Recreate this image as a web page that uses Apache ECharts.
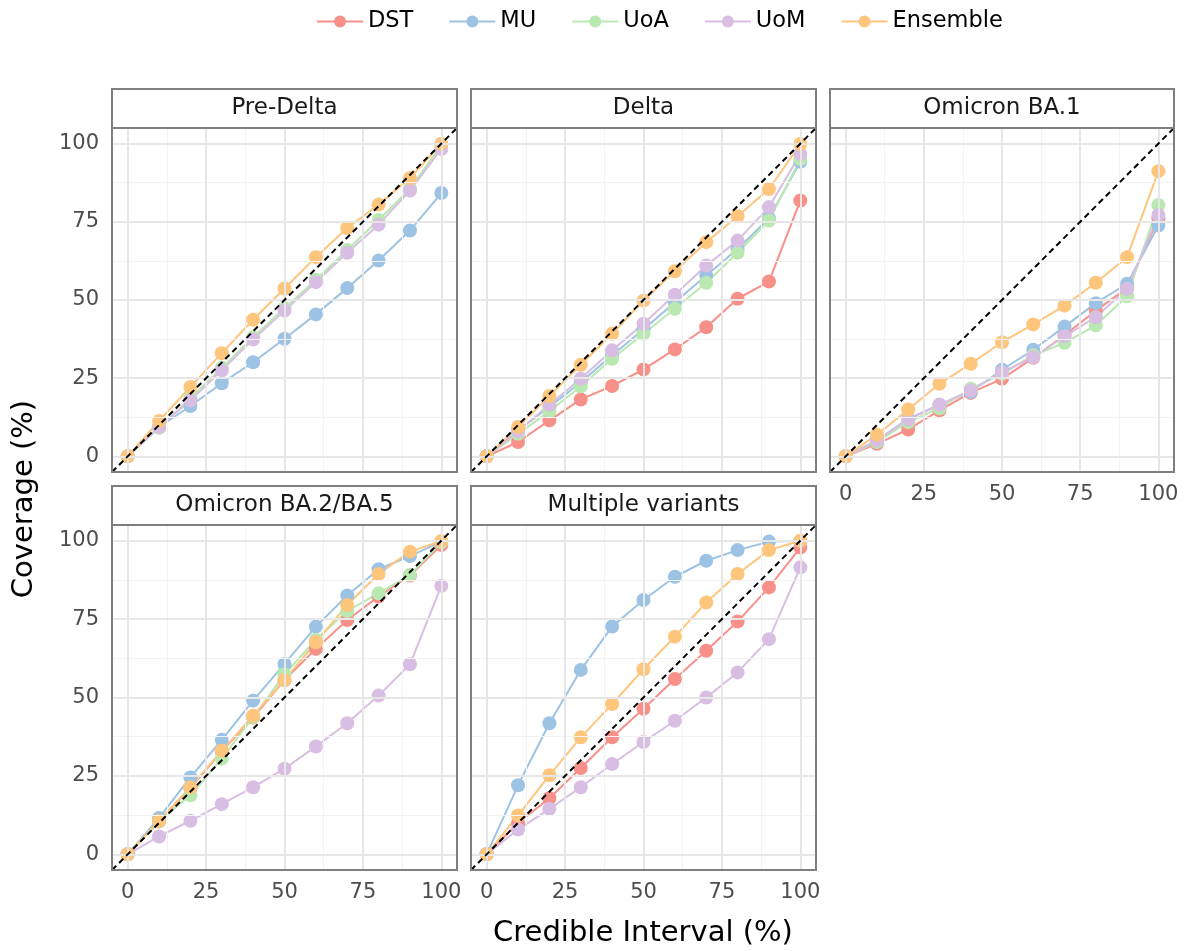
<!DOCTYPE html>
<html>
<head>
<meta charset="utf-8">
<script src="https://cdn.jsdelivr.net/npm/echarts@6.0.0/dist/echarts.min.js"></script>
<style>
html,body{margin:0;padding:0;background:#fff;}
#chart{width:1184px;height:951px;}
</style>
</head>
<body>
<div id="chart"></div>
<script>
// ---------- DATA ----------
const ciLevels = [0, 10, 20, 30, 40, 50, 60, 70, 80, 90, 100];
const panelNames = ['Pre-Delta', 'Delta', 'Omicron BA.1', 'Omicron BA.2/BA.5', 'Multiple variants'];
const modelNames = ['DST', 'MU', 'UoA', 'UoM', 'Ensemble'];
const tickValues = [0, 25, 50, 75, 100];
const minorTickValues = [12.5, 37.5, 62.5, 87.5];

// coverage (%) per panel, in the order of panelNames (null = model absent)
const DST = [
  null,
  [0, 4.6, 11.5, 18.2, 22.5, 27.8, 34.2, 41.3, 50.4, 55.9, 81.8],
  [0, 4.0, 8.6, 14.7, 20.3, 24.8, 31.5, 38.7, 46.6, 53.8, 76.1],
  [0, 10.5, 21.1, 32.8, 43.6, 55.6, 65.5, 74.7, 82.2, 88.9, 98.6],
  [0, 10.0, 17.9, 27.5, 37.3, 46.4, 55.9, 64.9, 74.2, 85.1, 97.8]
];
const MU = [
  [0, 9.4, 16.1, 23.4, 30.1, 37.6, 45.4, 53.8, 62.6, 72.2, 84.2],
  [0, 8.3, 15.8, 23.7, 32.3, 40.6, 49.3, 57.8, 66.3, 76.1, 94.2],
  [0, 5.1, 12.0, 16.5, 20.6, 27.7, 34.1, 41.5, 49.0, 55.2, 73.8],
  [0, 11.6, 24.5, 36.5, 49.0, 60.7, 72.6, 82.5, 90.9, 95.1, 99.7],
  [0, 22.0, 41.8, 58.8, 72.6, 81.1, 88.5, 93.6, 97.0, 99.7, 99.9]
];
const UoA = [
  [0, 9.1, 18.6, 28.3, 38.1, 47.4, 56.5, 66.0, 75.6, 85.5, 99.6],
  [0, 7.2, 14.4, 22.4, 31.2, 39.2, 47.2, 55.5, 65.1, 75.4, 95.1],
  [0, 4.6, 11.0, 15.4, 21.6, 26.4, 32.3, 36.3, 41.9, 51.2, 80.4],
  [0, 10.5, 18.8, 30.5, 43.7, 57.4, 68.4, 77.6, 83.2, 89.1, 99.5],
  null
];
const UoM = [
  [0, 9.4, 17.9, 27.5, 37.4, 46.6, 55.7, 65.1, 74.1, 85.0, 98.3],
  [0, 8.0, 16.5, 24.8, 33.9, 42.4, 51.7, 61.0, 69.0, 79.7, 96.7],
  [0, 5.1, 11.8, 16.5, 21.1, 26.9, 31.7, 38.4, 44.5, 53.6, 77.2],
  [0, 5.7, 10.7, 16.0, 21.4, 27.3, 34.4, 41.8, 50.6, 60.6, 85.6],
  [0, 7.9, 14.5, 21.4, 28.8, 35.8, 42.6, 50.0, 58.0, 68.6, 91.5]
];
const Ensemble = [
  [0, 11.3, 22.2, 33.0, 43.7, 53.7, 63.7, 73.0, 80.5, 89.0, 100],
  [0, 9.4, 19.3, 29.3, 39.2, 49.8, 59.2, 68.5, 76.8, 85.5, 99.9],
  [0, 6.9, 15.0, 23.2, 29.6, 36.5, 42.2, 48.2, 55.5, 63.7, 91.2],
  [0, 10.7, 21.4, 33.0, 44.2, 55.6, 67.6, 79.5, 89.4, 96.5, 99.9],
  [0, 12.4, 25.2, 37.3, 47.9, 59.0, 69.4, 80.3, 89.4, 97.0, 100]
];
const modelData = { DST: DST, MU: MU, UoA: UoA, UoM: UoM, Ensemble: Ensemble };
const diagonal = [[-5, -5], [105, 105]];

// ---------- LAYOUT / STYLE ----------
const colors = { DST: '#F8908A', MU: '#9DC3E4', UoA: '#B9E8B1', UoM: '#D8BEE2', Ensemble: '#FEC57C' };
const FONT = 'DejaVu Sans';
const panelBoxes = [
  { l: 112, t: 128, w: 345, h: 344, xl: false, yl: true },
  { l: 471, t: 128, w: 345, h: 344, xl: false, yl: false },
  { l: 830, t: 128, w: 344, h: 344, xl: true, yl: false },
  { l: 112, t: 525, w: 345, h: 345, xl: true, yl: true },
  { l: 471, t: 525, w: 345, h: 345, xl: true, yl: false }
];
const stripH = 39;

const grids = [], xAxes = [], yAxes = [], series = [], graphics = [];

function makeAxis(showLabels, isX) {
  return {
    type: 'value', min: -5, max: 105, gridIndex: 0,
    axisLine: { show: false },
    splitLine: { show: false },
    axisTick: { show: showLabels, customValues: tickValues, length: 6, lineStyle: { color: '#4d4d4d', width: 1.5 } },
    axisLabel: { show: showLabels, customValues: tickValues, color: '#4d4d4d', fontSize: 21, fontFamily: FONT, margin: isX ? 12 : 13 }
  };
}

panelBoxes.forEach((p, i) => {
  grids.push({ left: p.l, top: p.t, width: p.w, height: p.h, show: true, backgroundColor: '#fff', borderWidth: 0 });
  const xa = makeAxis(p.xl, true); xa.gridIndex = i; xAxes.push(xa);
  const ya = makeAxis(p.yl, false); ya.gridIndex = i; yAxes.push(ya);

  // grid lines via markLine on the library's scales
  const ml = [];
  minorTickValues.forEach(v => {
    ml.push({ xAxis: v, lineStyle: { color: '#F3F3F3', width: 1, type: 'solid' } });
    ml.push({ yAxis: v, lineStyle: { color: '#F3F3F3', width: 1, type: 'solid' } });
  });
  tickValues.forEach(v => {
    ml.push({ xAxis: v, lineStyle: { color: '#E6E6E6', width: 2, type: 'solid' } });
    ml.push({ yAxis: v, lineStyle: { color: '#E6E6E6', width: 2, type: 'solid' } });
  });
  series.push({
    type: 'line', xAxisIndex: i, yAxisIndex: i, data: [], silent: true, z: 1,
    markLine: { silent: true, symbol: ['none', 'none'], label: { show: false }, animation: false, data: ml }
  });

  modelNames.forEach(m => {
    const vals = modelData[m][i];
    if (!vals) return;
    series.push({
      name: m, type: 'line', xAxisIndex: i, yAxisIndex: i, z: 2,
      data: ciLevels.map((x, k) => [x, vals[k]]),
      symbol: 'circle', symbolSize: 14, showSymbol: true,
      lineStyle: { color: colors[m], width: 2 },
      itemStyle: { color: colors[m], borderWidth: 0 },
      emphasis: { disabled: true },
      animation: false
    });
  });

  series.push({
    type: 'line', xAxisIndex: i, yAxisIndex: i, z: 5, silent: true,
    data: diagonal, symbol: 'none',
    lineStyle: { color: '#000', width: 2, type: [6, 4] },
    animation: false
  });

  // panel border
  graphics.push({ type: 'rect', z: 100, silent: true,
    shape: { x: p.l, y: p.t, width: p.w, height: p.h },
    style: { fill: 'none', stroke: '#7f7f7f', lineWidth: 2 } });
  // strip
  graphics.push({ type: 'rect', z: 100, silent: true,
    shape: { x: p.l, y: p.t - stripH, width: p.w, height: stripH },
    style: { fill: '#ffffff', stroke: '#7f7f7f', lineWidth: 2 } });
  graphics.push({ type: 'text', z: 101, silent: true,
    x: p.l + p.w / 2, y: p.t - stripH / 2,
    style: { text: panelNames[i], fill: '#1a1a1a', font: '23px "' + FONT + '"', align: 'center', verticalAlign: 'middle' } });
});

graphics.push({ type: 'text', silent: true, x: 643, y: 933,
  style: { text: 'Credible Interval (%)', fill: '#000', font: '29px "' + FONT + '"', align: 'center', verticalAlign: 'middle' } });
graphics.push({ type: 'text', silent: true, x: 24, y: 499, rotation: Math.PI / 2,
  style: { text: 'Coverage (%)', fill: '#000', font: '29px "' + FONT + '"', align: 'center', verticalAlign: 'middle' } });

const chart = echarts.init(document.getElementById('chart'), null, { renderer: 'canvas' });
chart.setOption({
  animation: false,
  backgroundColor: '#fff',
  textStyle: { fontFamily: FONT },
  legend: {
    data: modelNames, left: 316, top: 10, padding: 0, orient: 'horizontal',
    itemWidth: 46, itemHeight: 15, itemGap: 35, selectedMode: false,
    textStyle: { fontSize: 22.5, color: '#000', fontFamily: FONT }
  },
  grid: grids, xAxis: xAxes, yAxis: yAxes, series: series, graphic: graphics
});
</script>
</body>
</html>
